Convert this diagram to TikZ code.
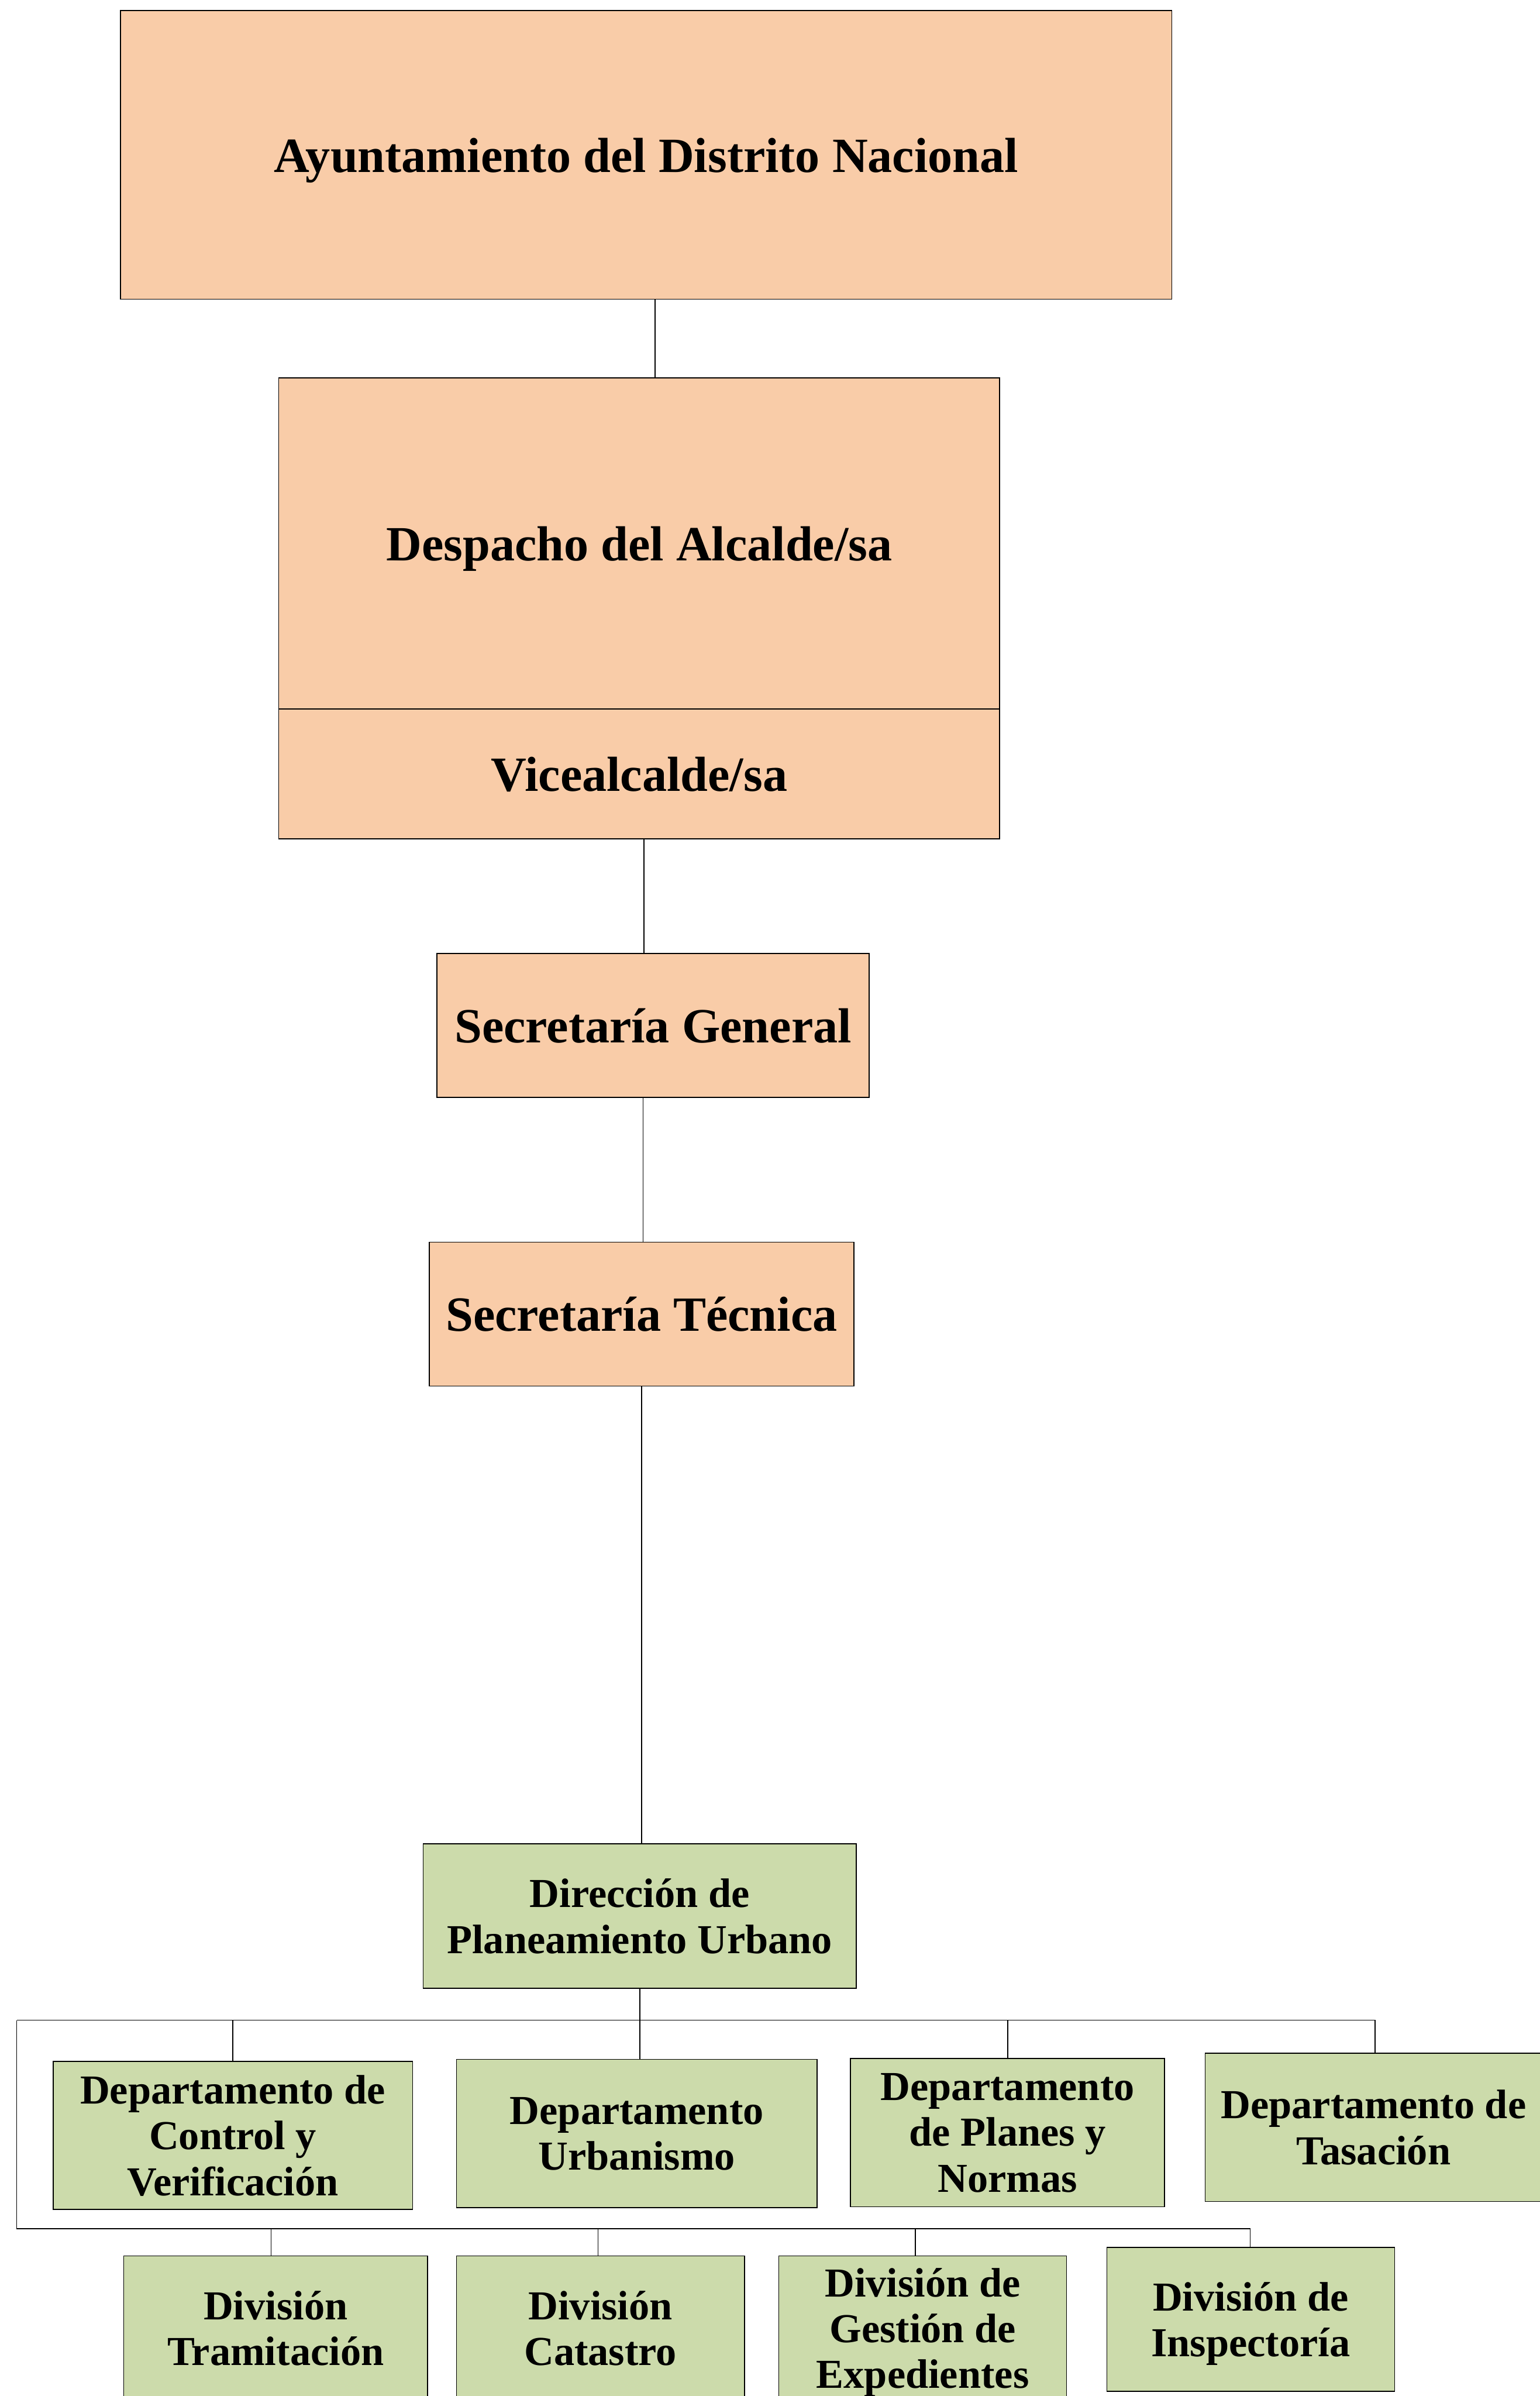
\documentclass[tikz,border=0pt]{standalone}
\usepackage{fontspec}
\setmainfont{Liberation Serif}
\definecolor{orangefill}{RGB}{249,204,168}
\definecolor{greenfill}{RGB}{204,219,171}
\tikzset{
  basebox/.style={draw=black, line width=0.55pt, inner sep=0pt, outer sep=0pt, align=center, text depth=0pt},
  topbox/.style={basebox, fill=orangefill, font=\bfseries\fontsize{29.3}{32.5}\selectfont},
  lowbox/.style={basebox, fill=greenfill, font=\bfseries\fontsize{24.5}{27.3}\selectfont},
  link/.style={draw=black, line width=0.6pt},
}
\begin{document}
\begin{tikzpicture}
\clip (0,0) rectangle (32.21,-50.11);
\useasboundingbox (0,0) rectangle (32.21,-50.11);

% upper chain
\node[topbox, minimum width=21.99cm, minimum height=6.04cm] (ayu) at (13.515,-3.24) {Ayuntamiento del Distrito Nacional};
\node[topbox, minimum width=15.08cm, minimum height=6.93cm] (desp) at (13.37,-11.365) {Despacho del Alcalde/sa};
\node[topbox, minimum width=15.08cm, minimum height=2.71cm] (vice) at (13.37,-16.185) {Vicealcalde/sa};
\node[topbox, minimum width=9.04cm, minimum height=3.01cm] (secgen) at (13.66,-21.445) {Secretaría General};
\node[topbox, minimum width=8.88cm, minimum height=3.01cm] (sectec) at (13.42,-27.485) {Secretaría Técnica};
\node[lowbox, minimum width=9.06cm, minimum height=3.02cm] (dir) at (13.38,-40.07) {Dirección de\\Planeamiento Urbano};

% departments
\node[lowbox, minimum width=7.52cm, minimum height=3.10cm] (d1) at (4.87,-44.66) {Departamento de\\Control y\\Verificación};
\node[lowbox, minimum width=7.54cm, minimum height=3.10cm] (d2) at (13.32,-44.62) {Departamento\\Urbanismo};
\node[lowbox, minimum width=6.57cm, minimum height=3.10cm] (d3) at (21.075,-44.60) {Departamento\\de Planes y\\Normas};
\node[lowbox, minimum width=7.04cm, minimum height=3.10cm] (d4) at (28.73,-44.49) {Departamento de\\Tasación};

% divisions
\node[lowbox, minimum width=6.35cm, minimum height=3.02cm] (v1) at (5.765,-48.69) {División\\Tramitación};
\node[lowbox, minimum width=6.02cm, minimum height=3.02cm] (v2) at (12.56,-48.69) {División\\Catastro};
\node[lowbox, minimum width=6.02cm, minimum height=3.02cm] (v3) at (19.30,-48.69) {División de\\Gestión de\\Expedientes};
\node[lowbox, minimum width=6.02cm, minimum height=3.01cm] (v4) at (26.16,-48.505) {División de\\Inspectoría};

% x positions of connectors
\coordinate (x1) at (13.70,0);
\coordinate (x2) at (13.47,0);
\coordinate (x3) at (13.45,0);
\coordinate (x4) at (13.42,0);
\coordinate (x5) at (13.38,0);

\draw[link] (ayu.south -| x1) -- (desp.north -| x1);
\draw[link] (vice.south -| x2) -- (secgen.north -| x2);
\draw[link] (secgen.south -| x3) -- (sectec.north -| x3);
\draw[link] (sectec.south -| x4) -- (dir.north -| x4);

% upper bus
\coordinate (busL) at (0.35,-42.25);
\coordinate (busR) at (28.76,-42.25);
\coordinate (bd1) at (4.87,-42.25);
\coordinate (bd3) at (21.08,-42.25);
\draw[link] (dir.south -| x5) -- (d2.north -| x5);
\draw[link] (busL) -- (busR) -- (d4.north -| busR);
\draw[link] (bd1) -- (d1.north -| bd1);
\draw[link] (bd3) -- (d3.north -| bd3);

% lower bus
\coordinate (lbL) at (0.35,-46.61);
\coordinate (lbR) at (26.15,-46.61);
\coordinate (bv1) at (5.67,-46.61);
\coordinate (bv2) at (12.51,-46.61);
\coordinate (bv3) at (19.15,-46.61);
\draw[link] (busL) -- (lbL) -- (lbR) -- (v4.north -| lbR);
\draw[link] (bv1) -- (v1.north -| bv1);
\draw[link] (bv2) -- (v2.north -| bv2);
\draw[link] (bv3) -- (v3.north -| bv3);
\end{tikzpicture}
\end{document}
